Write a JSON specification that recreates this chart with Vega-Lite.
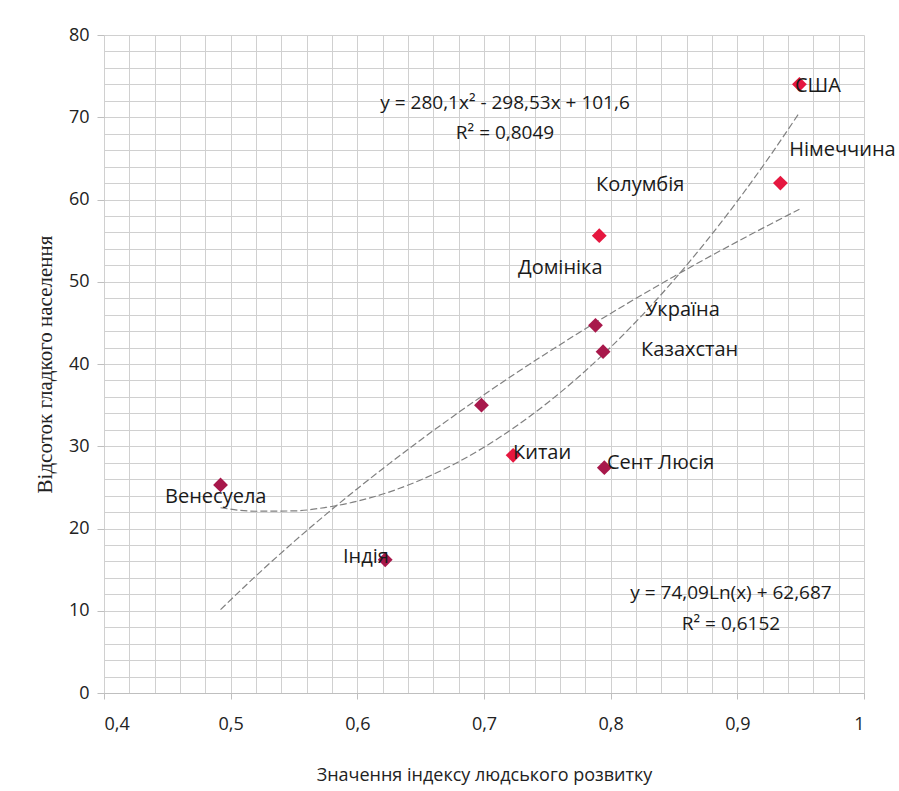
{
  "$schema": "https://vega.github.io/schema/vega-lite/v6.json",
  "width": 760,
  "height": 658,
  "autosize": {"type": "none"},
  "padding": {"left": 104, "top": 35, "right": 35, "bottom": 98},
  "background": "white",
  "config": {
    "view": {"stroke": null},
    "font": "Open Sans"
  },
  "encoding": {
    "x": {
      "field": "x", "type": "quantitative",
      "scale": {"domain": [0.4, 1], "nice": false, "zero": false},
      "axis": {
        "title": "Значення індексу людського розвитку",
        "titleFont": "Open Sans", "titleFontSize": 18, "titleFontWeight": "normal", "titleColor": "#222",
        "titlePadding": 33,
        "values": [0.4,0.42,0.44,0.46,0.48,0.5,0.52,0.54,0.56,0.58,0.6,0.62,0.64,0.66,0.68,0.7,0.72,0.74,0.76,0.78,0.8,0.82,0.84,0.86,0.88,0.9,0.92,0.94,0.96,0.98,1],
        "labelExpr": "abs(datum.value*10 - round(datum.value*10)) < 0.001 ? (datum.value > 0.999 ? '1' : replace(format(datum.value, '.1f'), '.', ',')) : ''",
        "labelOverlap": false,
        "labelFont": "Open Sans", "labelFontSize": 18, "labelColor": "#222", "labelPadding": 16,
        "tickSize": 6, "tickColor": "#bfbfbf",
        "tickOpacity": {"condition": {"test": "abs(datum.value*10 - round(datum.value*10)) < 0.001", "value": 1}, "value": 0},
        "grid": true, "gridColor": "#d0d0d0", "gridWidth": 1,
        "domainColor": "#bfbfbf"
      }
    },
    "y": {
      "field": "y", "type": "quantitative",
      "scale": {"domain": [0, 80], "nice": false},
      "axis": {
        "title": "Відсоток гладкого населення",
        "titleFont": "Liberation Serif", "titleFontSize": 21, "titleFontWeight": "normal", "titleColor": "#222",
        "titlePadding": 13,
        "values": [0,2,4,6,8,10,12,14,16,18,20,22,24,26,28,30,32,34,36,38,40,42,44,46,48,50,52,54,56,58,60,62,64,66,68,70,72,74,76,78,80],
        "labelExpr": "datum.value % 10 == 0 ? datum.label : ''",
        "labelOverlap": false,
        "labelFont": "Open Sans", "labelFontSize": 18, "labelColor": "#222", "labelPadding": 8,
        "tickSize": 7, "tickColor": "#bfbfbf",
        "tickOpacity": {"condition": {"test": "datum.value % 10 == 0", "value": 1}, "value": 0},
        "grid": true, "gridColor": "#d0d0d0", "gridWidth": 1,
        "domain": false
      }
    }
  },
  "layer": [
    {
      "data": {"values": [
        {"model": "poly", "x": 0.492, "y": 22.52},
        {"model": "poly", "x": 0.52, "y": 22.10},
        {"model": "poly", "x": 0.55, "y": 22.14},
        {"model": "poly", "x": 0.575, "y": 22.56},
        {"model": "poly", "x": 0.6, "y": 23.32},
        {"model": "poly", "x": 0.625, "y": 24.43},
        {"model": "poly", "x": 0.65, "y": 25.90},
        {"model": "poly", "x": 0.675, "y": 27.71},
        {"model": "poly", "x": 0.7, "y": 29.88},
        {"model": "poly", "x": 0.725, "y": 32.40},
        {"model": "poly", "x": 0.75, "y": 35.26},
        {"model": "poly", "x": 0.775, "y": 38.48},
        {"model": "poly", "x": 0.8, "y": 42.04},
        {"model": "poly", "x": 0.825, "y": 45.95},
        {"model": "poly", "x": 0.85, "y": 50.22},
        {"model": "poly", "x": 0.875, "y": 54.84},
        {"model": "poly", "x": 0.9, "y": 59.80},
        {"model": "poly", "x": 0.925, "y": 65.12},
        {"model": "poly", "x": 0.949, "y": 70.56},
        {"model": "log", "x": 0.492, "y": 10.14},
        {"model": "log", "x": 0.52, "y": 14.24},
        {"model": "log", "x": 0.55, "y": 18.40},
        {"model": "log", "x": 0.575, "y": 21.69},
        {"model": "log", "x": 0.6, "y": 24.84},
        {"model": "log", "x": 0.625, "y": 27.86},
        {"model": "log", "x": 0.65, "y": 30.77},
        {"model": "log", "x": 0.675, "y": 33.57},
        {"model": "log", "x": 0.7, "y": 36.26},
        {"model": "log", "x": 0.725, "y": 38.86},
        {"model": "log", "x": 0.75, "y": 41.37},
        {"model": "log", "x": 0.775, "y": 43.80},
        {"model": "log", "x": 0.8, "y": 46.15},
        {"model": "log", "x": 0.825, "y": 48.43},
        {"model": "log", "x": 0.85, "y": 50.65},
        {"model": "log", "x": 0.875, "y": 52.80},
        {"model": "log", "x": 0.9, "y": 54.88},
        {"model": "log", "x": 0.925, "y": 56.91},
        {"model": "log", "x": 0.949, "y": 58.81}
      ]},
      "mark": {"type": "line", "color": "#808080", "strokeWidth": 1.2, "strokeDash": [7, 3], "interpolate": "monotone"},
      "encoding": {"detail": {"field": "model"}}
    },
    {
      "data": {"values": [
        {"country": "США", "x": 0.949, "y": 74.0},
        {"country": "Німеччина", "x": 0.934, "y": 62.0},
        {"country": "Домініка", "x": 0.791, "y": 55.6},
        {"country": "Україна", "x": 0.788, "y": 44.7},
        {"country": "Казахстан", "x": 0.794, "y": 41.5},
        {"country": "Колумбія", "x": 0.698, "y": 35.0},
        {"country": "Китаи", "x": 0.723, "y": 28.9},
        {"country": "Сент Люсія", "x": 0.795, "y": 27.4},
        {"country": "Венесуела", "x": 0.492, "y": 25.3},
        {"country": "Індія", "x": 0.622, "y": 16.2}
      ]},
      "mark": {"type": "point", "shape": "diamond", "filled": true, "size": 220, "opacity": 1},
      "encoding": {
        "color": {
          "condition": {"test": "indexof(['США','Німеччина','Домініка','Китаи'], datum.country) >= 0", "value": "#e5173f"},
          "value": "#a8184b"
        }
      }
    },
    {
      "data": {"values": [
        {"text": "США", "x": 0.9455, "y": 73.8},
        {"text": "Німеччина", "x": 0.941, "y": 66.0},
        {"text": "Колумбія", "x": 0.7884, "y": 61.8},
        {"text": "Домініка", "x": 0.7268, "y": 51.7},
        {"text": "Україна", "x": 0.8271, "y": 46.6},
        {"text": "Казахстан", "x": 0.8239, "y": 41.7},
        {"text": "Китаи", "x": 0.7229, "y": 29.2},
        {"text": "Сент Люсія", "x": 0.7971, "y": 28.0},
        {"text": "Венесуела", "x": 0.4482, "y": 23.8},
        {"text": "Індія", "x": 0.5887, "y": 16.5}
      ]},
      "mark": {"type": "text", "align": "left", "baseline": "middle", "font": "Open Sans", "fontSize": 20, "color": "#1a1a1a"},
      "encoding": {"text": {"field": "text"}}
    },
    {
      "data": {"values": [
        {"text": "y = 280,1x² - 298,53x + 101,6", "x": 0.7166, "y": 71.7},
        {"text": "R² = 0,8049", "x": 0.7166, "y": 68.1},
        {"text": "y = 74,09Ln(x) + 62,687", "x": 0.895, "y": 12.2},
        {"text": "R² = 0,6152", "x": 0.895, "y": 8.4}
      ]},
      "mark": {"type": "text", "align": "center", "baseline": "middle", "font": "Open Sans", "fontSize": 19, "color": "#1a1a1a"},
      "encoding": {"text": {"field": "text"}}
    }
  ]
}
